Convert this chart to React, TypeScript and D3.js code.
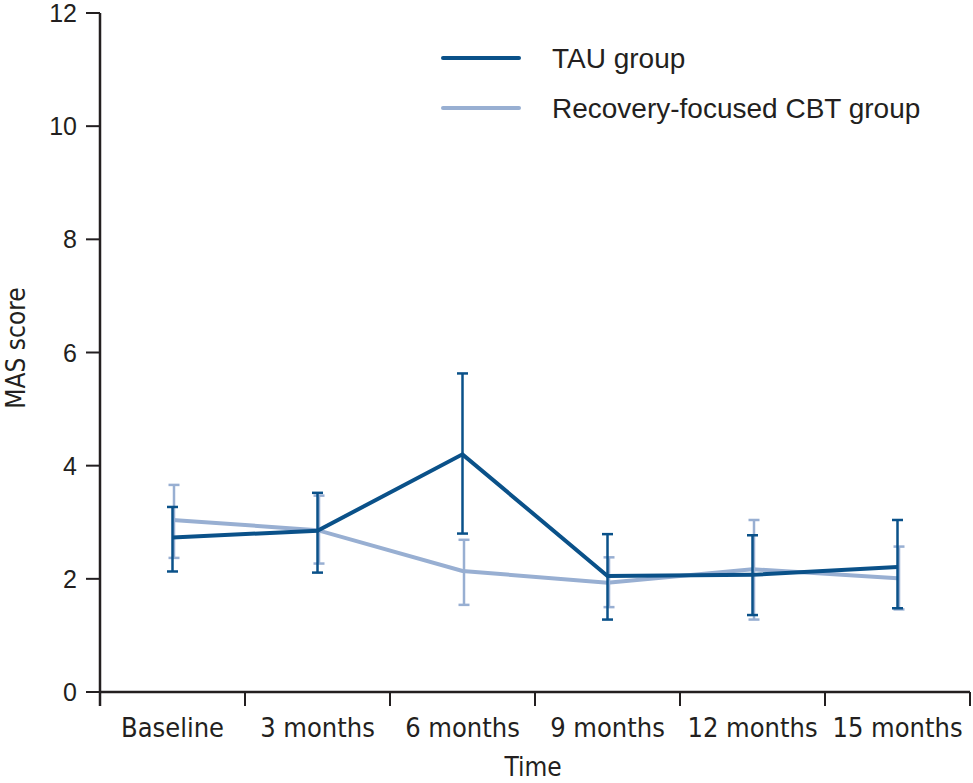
import React from "react";
import * as d3 from "d3";

const categories = ["Baseline", "3 months", "6 months", "9 months", "12 months", "15 months"];
const yTicks = [0, 2, 4, 6, 8, 10, 12];

const tauMean = [2.73, 2.85, 4.2, 2.05, 2.07, 2.21];
const tauLow = [2.13, 2.11, 2.8, 1.28, 1.36, 1.48];
const tauHigh = [3.27, 3.52, 5.63, 2.79, 2.77, 3.04];

const cbtMean = [3.04, 2.86, 2.14, 1.93, 2.17, 2.01];
const cbtLow = [2.37, 2.27, 1.54, 1.5, 1.28, 1.46];
const cbtHigh = [3.66, 3.47, 2.69, 2.38, 3.04, 2.57];

const seriesNames = ["TAU group", "Recovery-focused CBT group"];
const seriesColors = ["#0a5189", "#98afd2"];

const W = 973;
const H = 783;
const M = { left: 100, right: 970, top: 13, bottom: 692 };

const condensed = "'Liberation Sans Narrow', 'DejaVu Sans Condensed', sans-serif";
const regular = "'Liberation Sans', 'DejaVu Sans', sans-serif";
const axisColor = "#231f20";

export default function App() {
  const x = d3.scaleBand<string>().domain(categories).range([M.left, M.right]);
  const y = d3.scaleLinear().domain([0, 12]).range([M.bottom, M.top]);
  const cx = (i: number) => (x(categories[i]) as number) + x.bandwidth() / 2;
  const line = d3
    .line<number>()
    .x((_, i) => cx(i))
    .y((d) => y(d));

  const series = [
    { name: seriesNames[1], color: seriesColors[1], mean: cbtMean, lo: cbtLow, hi: cbtHigh, off: 1.5 },
    { name: seriesNames[0], color: seriesColors[0], mean: tauMean, lo: tauLow, hi: tauHigh, off: 0 },
  ];
  const cap = 5.5;
  const xTickPos = [...categories.map((c) => x(c) as number), M.right];

  return (
    <svg
      width={W}
      height={H}
      style={{ position: "absolute", left: 0, top: 0, display: "block", background: "#fff" }}
    >
      {/* y axis */}
      <line x1={M.left} x2={M.left} y1={M.top} y2={M.bottom + 14} stroke={axisColor} strokeWidth={2.5} />
      {yTicks.map((t) => (
        <g key={t}>
          <line x1={M.left - 14} x2={M.left} y1={y(t)} y2={y(t)} stroke={axisColor} strokeWidth={2} />
          <text
            x={77}
            y={Math.max(y(t), 12)}
            textAnchor="end"
            dominantBaseline="central"
            fontFamily={regular}
            fontSize={25}
            fill={axisColor}
          >
            {t}
          </text>
        </g>
      ))}
      {/* x axis */}
      <line x1={M.left - 1} x2={M.right} y1={M.bottom} y2={M.bottom} stroke={axisColor} strokeWidth={2.5} />
      {xTickPos.map((p, i) => (
        <line key={i} x1={p} x2={p} y1={M.bottom} y2={M.bottom + 14} stroke={axisColor} strokeWidth={2} />
      ))}
      {categories.map((c, i) => (
        <text
          key={c}
          x={cx(i)}
          y={737}
          textAnchor="middle"
          fontFamily={condensed}
          fontSize={27}
          fill={axisColor}
        >
          {c}
        </text>
      ))}
      <text x={(M.left + M.right) / 2 - 2} y={776} textAnchor="middle" fontFamily={condensed} fontSize={26} fill={axisColor}>
        Time
      </text>
      <text
        transform={`translate(25, 348) rotate(-90)`}
        textAnchor="middle"
        fontFamily={condensed}
        fontSize={26}
        fill={axisColor}
      >
        MAS score
      </text>

      {series.map((s) => (
        <g key={s.name}>
          {s.mean.map((_, i) => {
            const px = cx(i) + s.off;
            return (
              <g key={i} stroke={s.color} strokeWidth={2.5}>
                <line x1={px} x2={px} y1={y(s.lo[i])} y2={y(s.hi[i])} />
                <line x1={px - cap} x2={px + cap} y1={y(s.lo[i])} y2={y(s.lo[i])} />
                <line x1={px - cap} x2={px + cap} y1={y(s.hi[i])} y2={y(s.hi[i])} />
              </g>
            );
          })}
          <path d={line(s.mean) || ""} fill="none" stroke={s.color} strokeWidth={4} strokeLinejoin="miter" />
        </g>
      ))}

      {/* legend */}
      {seriesNames.map((n, i) => (
        <g key={n} transform={`translate(0, ${58 + i * 50})`}>
          <line x1={443} x2={519} y1={0} y2={0} stroke={seriesColors[i]} strokeWidth={4} strokeLinecap="round" />
          <text x={552} y={0} dominantBaseline="central" fontFamily={regular} fontSize={28} fill={axisColor}>
            {n}
          </text>
        </g>
      ))}
    </svg>
  );
}
